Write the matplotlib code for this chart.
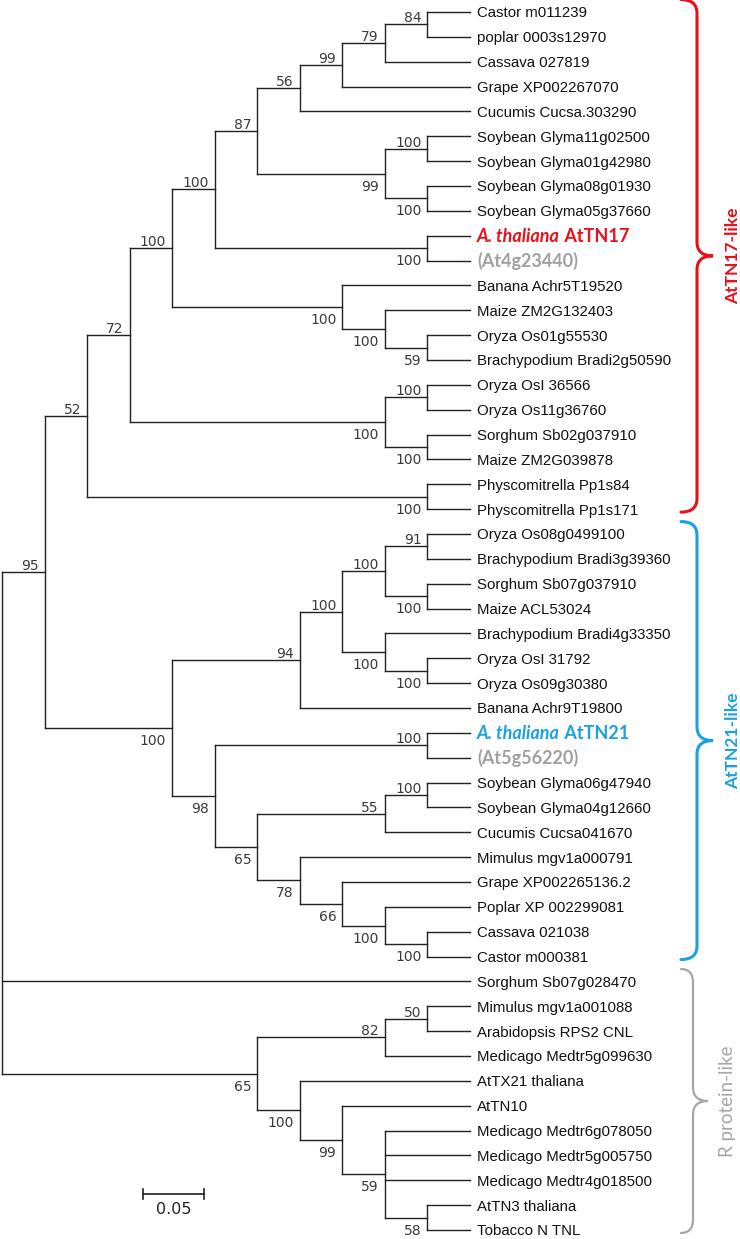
import matplotlib
matplotlib.use('Agg')
import matplotlib.pyplot as plt
from matplotlib.path import Path
from matplotlib.patches import PathPatch
from matplotlib.collections import LineCollection
from matplotlib import font_manager
import matplotlib.transforms as mtransforms

# Tree topology (newick, bootstrap support as internal node labels)
tn17_clade = ("(((((((((Castor m011239,poplar 0003s12970)84,Cassava 027819)79,"
              "Grape XP002267070)99,Cucumis Cucsa.303290)56,"
              "((Soybean Glyma11g02500,Soybean Glyma01g42980)100,"
              "(Soybean Glyma08g01930,Soybean Glyma05g37660)100)99)87,"
              "('A. thaliana AtTN17','(At4g23440)')100)100,"
              "(Banana Achr5T19520,(Maize ZM2G132403,"
              "(Oryza Os01g55530,Brachypodium Bradi2g50590)59)100)100)100,"
              "((Oryza OsI 36566,Oryza Os11g36760)100,"
              "(Sorghum Sb02g037910,Maize ZM2G039878)100)100)72,"
              "(Physcomitrella Pp1s84,Physcomitrella Pp1s171)100)52")

tn21_clade = ("(((((Oryza Os08g0499100,Brachypodium Bradi3g39360)91,"
              "(Sorghum Sb07g037910,Maize ACL53024)100)100,"
              "(Brachypodium Bradi4g33350,(Oryza OsI 31792,Oryza Os09g30380)100)100)100,"
              "Banana Achr9T19800)94,"
              "(('A. thaliana AtTN21','(At5g56220)')100,"
              "(((Soybean Glyma06g47940,Soybean Glyma04g12660)100,Cucumis Cucsa041670)55,"
              "(Mimulus mgv1a000791,(Grape XP002265136.2,(Poplar XP 002299081,"
              "(Cassava 021038,Castor m000381)100)100)66)78)65)98)100")

r_clade = ("(((Mimulus mgv1a001088,Arabidopsis RPS2 CNL)50,Medicago Medtr5g099630)82,"
           "(AtTX21 thaliana,(AtTN10,(Medicago Medtr6g078050,Medicago Medtr5g005750,"
           "Medicago Medtr4g018500,(AtTN3 thaliana,Tobacco N TNL)58)59)99)100)65")

root_support = "95"
root_outlier = "Sorghum Sb07g028470"

# clade brackets: label, first leaf, last leaf, colour
group_labels = ["AtTN17-like", "AtTN21-like", "R protein-like"]
group_first = ["Castor m011239", "Oryza Os08g0499100", "Sorghum Sb07g028470"]
group_last = ["Physcomitrella Pp1s171", "Castor m000381", "Tobacco N TNL"]
group_colors = ["#e8101a", "#1ba1e2", "#a6a6a6"]

highlight = {"A. thaliana AtTN17": "#e8101a", "A. thaliana AtTN21": "#1ba1e2",
             "(At4g23440)": "#a0a0a0", "(At5g56220)": "#a0a0a0"}

scale_label = "0.05"


def parse_newick(s):
    pos = 0

    def read_label():
        nonlocal pos
        if s[pos] == "'":
            end = s.index("'", pos + 1)
            lab = s[pos + 1:end]
            pos = end + 1
            return lab
        start = pos
        while pos < len(s) and s[pos] not in ",();":
            pos += 1
        return s[start:pos].strip()

    def node():
        nonlocal pos
        if s[pos] == "(":
            pos += 1
            kids = [node()]
            while s[pos] == ",":
                pos += 1
                kids.append(node())
            pos += 1
            return {"children": kids, "support": read_label()}
        return {"name": read_label(), "children": []}

    return node()


newick = "((" + tn17_clade + "," + tn21_clade + ")" + root_support + "," + root_outlier + "," + r_clade + ");"
tree = parse_newick(newick)

leaves = []


def layout(n):
    # y = leaf order, h = number of levels above the tips (topology-only tree)
    if not n["children"]:
        n["y"] = len(leaves)
        n["h"] = 0
        leaves.append(n)
        return
    for c in n["children"]:
        layout(c)
    n["y"] = (n["children"][0]["y"] + n["children"][-1]["y"]) / 2
    n["h"] = max(c["h"] for c in n["children"]) + 1


layout(tree)
H = tree["h"]

fig = plt.figure(figsize=(7.4, 12.39), dpi=100)
ax = fig.add_axes([0, 0, 1, 1])
ax.axis('off')

# map levels/leaf rows onto the canvas
step_px = (470 - 2) / H
ax.set_xlim(-2 / step_px, (740 - 2) / step_px)
row_px = (1230 - 12) / (len(leaves) - 1)
ax.set_ylim((1239 - 12) / row_px, -12 / row_px)

narrow = any('Narrow' in f.name for f in font_manager.fontManager.ttflist)
boot_font = dict(family='Liberation Sans Narrow', fontsize=10) if narrow else dict(family='Liberation Sans', fontsize=8.5)
pt = 0.72  # points per pixel at dpi 100

segs = []
labels = []


def draw(n):
    x = H - n["h"]
    if not n["children"]:
        return
    ys = [c["y"] for c in n["children"]]
    segs.append([(x, min(ys)), (x, max(ys))])
    for i, c in enumerate(n["children"]):
        cx = H - c["h"]
        segs.append([(x, c["y"]), (cx, c["y"])])
        if c["children"] and c["support"]:
            labels.append((cx, c["y"], c["support"], i == 0))
        draw(c)


draw(tree)
ax.add_collection(LineCollection(segs, colors='#222222', linewidths=1.0, capstyle='projecting'))

for cx, cy, txt, above in labels:
    dy = 2 * pt if above else -17 * pt
    ax.annotate(txt, xy=(cx, cy), xytext=(-6 * pt, dy), textcoords='offset points',
                ha='right', va='baseline', color='#3a3a3a', **boot_font)

for lf in leaves:
    name = lf["name"]
    x = H
    if name in highlight:
        col = highlight[name]
        if name.startswith("A. thaliana"):
            t1 = ax.annotate("A. thaliana", xy=(x, lf["y"]), xytext=(7 * pt, -4.5),
                             textcoords='offset points', ha='left', va='baseline',
                             family='Lato', fontweight='bold', fontstyle='italic',
                             fontsize=13, color=col)
            ax.annotate(" " + name.split()[-1], xy=(1, 0), xycoords=t1, ha='left', va='bottom',
                        family='Lato', fontweight='bold', fontsize=13, color=col)
        else:
            ax.annotate(name, xy=(x, lf["y"]), xytext=(7 * pt, -4.5),
                        textcoords='offset points', ha='left', va='baseline',
                        family='Lato', fontweight='bold', fontsize=13, color=col)
    else:
        ax.annotate(name, xy=(x, lf["y"]), xytext=(7 * pt, -3.9),
                    textcoords='offset points', ha='left', va='baseline',
                    family='Liberation Sans', fontsize=10.8, color='#111111')

# clade brackets
names = [lf["name"] for lf in leaves]
btrans = mtransforms.blended_transform_factory(ax.transAxes, ax.transData)
for lab, first, last, col in zip(group_labels, group_first, group_last, group_colors):
    top = names.index(first) - 0.5
    bot = names.index(last) + 0.12
    mid = (top + bot) / 2
    gray = col == "#a6a6a6"
    x0 = 681 / 740
    x1 = (693 if gray else 697) / 740
    x2 = (708 if gray else 713) / 740
    r = 0.55
    verts = [(x0, top), (x1, top), (x1, top + r), (x1, mid - r),
             (x1, mid), (x2, mid), (x1, mid), (x1, mid + r),
             (x1, bot - r), (x1, bot), (x0, bot)]
    codes = [Path.MOVETO, Path.CURVE3, Path.CURVE3, Path.LINETO,
             Path.CURVE3, Path.CURVE3, Path.CURVE3, Path.CURVE3,
             Path.LINETO, Path.CURVE3, Path.CURVE3]
    ax.add_patch(PathPatch(Path(verts, codes), transform=btrans, fill=False,
                           edgecolor=col, linewidth=1.6 if gray else 2.2, capstyle='round'))
    ax.text((727 if gray else 733) / 740, mid, lab, transform=btrans, rotation=90,
            ha='center', va='center', family='Lato', fontsize=13.5 if gray else 12.5,
            fontweight='normal' if gray else 'bold', color=col)

# scale bar
sx0, sx1, sy = 143 / 740, 204 / 740, 1 - 1194 / 1239
tick = 5 / 1239
ax.plot([sx0, sx1], [sy, sy], color='#222222', lw=1.2, transform=ax.transAxes)
ax.plot([sx0, sx0], [sy - tick, sy + tick], color='#222222', lw=1.2, transform=ax.transAxes)
ax.plot([sx1, sx1], [sy - tick, sy + tick], color='#222222', lw=1.2, transform=ax.transAxes)
ax.text((sx0 + sx1) / 2, sy - 8 / 1239, scale_label, transform=ax.transAxes, ha='center', va='top',
        color='#222222', family=boot_font['family'], fontsize=boot_font['fontsize'] + 1.5)

fig.savefig('out.png', dpi=100)
